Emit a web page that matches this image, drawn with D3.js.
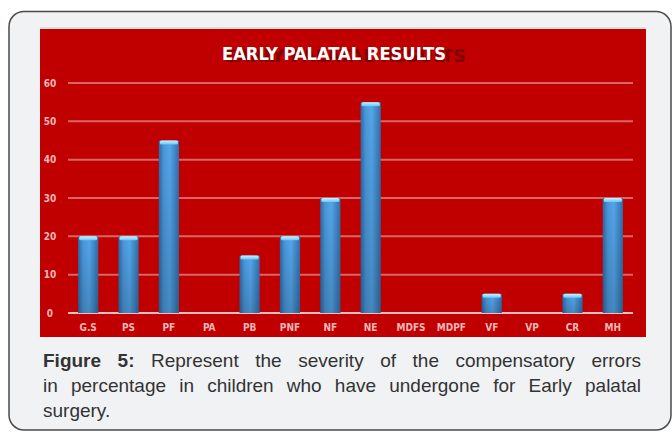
<!DOCTYPE html>
<html>
<head>
<meta charset="utf-8">
<script src="https://cdn.jsdelivr.net/npm/d3@7"></script>
<style>
  html, body { margin: 0; padding: 0; background: #ffffff; }
  svg { display: block; }
</style>
</head>
<body>
<svg id="chart" width="672" height="434"></svg>
<script>
const categories = ["G.S", "PS", "PF", "PA", "PB", "PNF", "NF", "NE", "MDFS", "MDPF", "VF", "VP", "CR", "MH"];
const values = [20, 20, 45, 0, 15, 20, 30, 55, 0, 0, 5, 0, 5, 30];
const yTicks = [0, 10, 20, 30, 40, 50, 60];
const chartTitle = "EARLY PALATAL RESULTS";
const captionBold = "Figure 5:";
const captionLines = [
  "Represent the severity of the compensatory errors",
  "in percentage in children who have undergone for Early palatal",
  "surgery."
];

const svg = d3.select("#chart");
const defs = svg.append("defs");

// bar gradient (horizontal)
const g1 = defs.append("linearGradient").attr("id", "barGrad").attr("x1", 0).attr("x2", 1).attr("y1", 0).attr("y2", 0);
g1.append("stop").attr("offset", "0%").attr("stop-color", "#2c6aa6");
g1.append("stop").attr("offset", "25%").attr("stop-color", "#4a98dc");
g1.append("stop").attr("offset", "55%").attr("stop-color", "#55a6ea");
g1.append("stop").attr("offset", "100%").attr("stop-color", "#2f70ad");
const g2 = defs.append("linearGradient").attr("id", "shadeGrad").attr("x1", 0).attr("x2", 0).attr("y1", 0).attr("y2", 1);
g2.append("stop").attr("offset", "0%").attr("stop-color", "#000").attr("stop-opacity", 0);
g2.append("stop").attr("offset", "100%").attr("stop-color", "#000").attr("stop-opacity", 0.18);
const g3 = defs.append("linearGradient").attr("id", "capGrad").attr("x1", 0).attr("x2", 0).attr("y1", 0).attr("y2", 1);
g3.append("stop").attr("offset", "0%").attr("stop-color", "#c8f4ff");
g3.append("stop").attr("offset", "100%").attr("stop-color", "#6cc4f4");

// outer frame
svg.append("rect")
  .attr("x", 9).attr("y", 11.5).attr("width", 662).attr("height", 418.5)
  .attr("rx", 15).attr("ry", 15)
  .attr("fill", "#f1f2f4").attr("stroke", "#4a4a4a").attr("stroke-width", 1.5);

// panel
const panel = { x: 40, y: 29, w: 606, h: 308 };
svg.append("rect").attr("x", panel.x).attr("y", panel.y - 2).attr("width", panel.w).attr("height", 2).attr("fill", "#dedede");
svg.append("rect").attr("x", panel.x).attr("y", panel.y).attr("width", panel.w).attr("height", panel.h).attr("fill", "#c00000");

// scales
const x = d3.scaleBand().domain(categories).range([68, 633]).paddingInner(0.5).paddingOuter(0.25);
const y = d3.scaleLinear().domain([0, 60]).range([313, 83]);

// gridlines
svg.append("g").selectAll("line").data(yTicks).join("line")
  .attr("x1", 68).attr("x2", 633)
  .attr("y1", d => y(d)).attr("y2", d => y(d))
  .attr("stroke", "#ffffff").attr("stroke-opacity", d => d === 0 ? 0.75 : 0.4).attr("stroke-width", 2);

// y labels
const labelFont = "'Liberation Sans Narrow', 'DejaVu Sans Condensed', 'Liberation Sans', sans-serif";
svg.append("g").selectAll("text").data(yTicks).join("text")
  .attr("x", 50).attr("y", d => y(d) + 3.5)
  .attr("text-anchor", "middle")
  .attr("font-family", labelFont).attr("font-weight", "bold").attr("font-size", 10)
  .attr("fill", "#f2b8b8")
  .text(d => d);

// bars
const bars = svg.append("g");
const data = categories.map((c, i) => ({ c, v: values[i] })).filter(d => d.v > 0);
bars.selectAll("rect.bar").data(data).join("rect").attr("class", "bar")
  .attr("x", d => x(d.c)).attr("width", x.bandwidth())
  .attr("y", d => y(d.v)).attr("height", d => y(0) - y(d.v))
  .attr("fill", "url(#barGrad)");
bars.selectAll("rect.shade").data(data).join("rect").attr("class", "shade")
  .attr("x", d => x(d.c)).attr("width", x.bandwidth())
  .attr("y", d => y(d.v)).attr("height", d => y(0) - y(d.v))
  .attr("fill", "url(#shadeGrad)");
bars.selectAll("rect.cap").data(data).join("rect").attr("class", "cap")
  .attr("x", d => x(d.c) + 1).attr("width", x.bandwidth() - 2)
  .attr("y", d => y(d.v)).attr("height", 4)
  .attr("rx", 1.5)
  .attr("fill", "url(#capGrad)");

// x labels
svg.append("g").selectAll("text").data(categories).join("text")
  .attr("x", d => x(d) + x.bandwidth() / 2).attr("y", 331)
  .attr("text-anchor", "middle")
  .attr("font-family", labelFont).attr("font-weight", "bold").attr("font-size", 10)
  .attr("fill", "#f2b8b8")
  .text(d => d);

// title with shadow
svg.append("text")
  .attr("x", 224).attr("y", 62)
  .attr("font-family", labelFont).attr("font-weight", "bold").attr("font-size", 18)
  .attr("textLength", 242).attr("lengthAdjust", "spacingAndGlyphs")
  .attr("fill", "#6e0000").attr("opacity", 0.75)
  .text(chartTitle);
svg.append("text")
  .attr("x", 222).attr("y", 60)
  .attr("font-family", labelFont).attr("font-weight", "bold").attr("font-size", 18)
  .attr("textLength", 224).attr("lengthAdjust", "spacingAndGlyphs")
  .attr("fill", "#ffffff")
  .text(chartTitle);

// caption (justified)
const capFont = "'Liberation Sans', Arial, sans-serif";
const capLeft = 43, capRight = 641, capSize = 19;
const lineY = [367, 392, 417];
function layoutLine(words, yy, justify) {
  const g = svg.append("g");
  const nodes = words.map(w => g.append("text")
    .attr("y", yy)
    .attr("font-family", capFont).attr("font-size", capSize)
    .attr("font-weight", w.bold ? "bold" : "normal")
    .attr("fill", "#333333")
    .text(w.t));
  const widths = nodes.map(n => n.node().getComputedTextLength());
  const total = d3.sum(widths);
  const gap = justify ? (capRight - capLeft - total) / (words.length - 1) : capSize * 0.28;
  let cx = capLeft;
  nodes.forEach((n, i) => { n.attr("x", cx); cx += widths[i] + gap; });
}
const line1 = captionBold.split(" ").map(t => ({ t, bold: true }))
  .concat(captionLines[0].split(" ").map(t => ({ t, bold: false })));
layoutLine(line1, lineY[0], true);
layoutLine(captionLines[1].split(" ").map(t => ({ t, bold: false })), lineY[1], true);
layoutLine(captionLines[2].split(" ").map(t => ({ t, bold: false })), lineY[2], false);
</script>
</body>
</html>
